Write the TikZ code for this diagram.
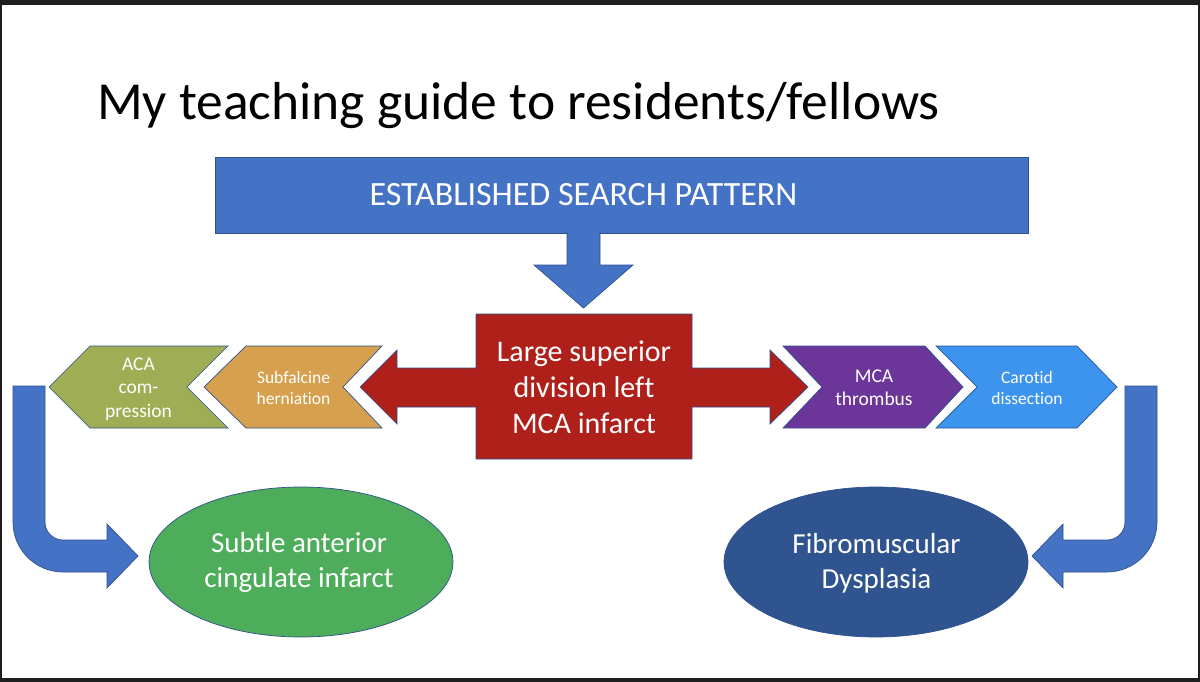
\documentclass[tikz,border=0pt]{standalone}
\usepackage{fontspec}
\setmainfont{Carlito}[Ligatures=NoCommon]
\definecolor{frame}{HTML}{1E1E1E}
\definecolor{outl}{HTML}{2F528F}
\definecolor{patblue}{HTML}{4472C4}
\definecolor{infred}{HTML}{B0201A}
\definecolor{acagreen}{HTML}{9FAD55}
\definecolor{subfal}{HTML}{D6A04F}
\definecolor{thrpurple}{HTML}{6C3599}
\definecolor{carblue}{HTML}{3D94EE}
\definecolor{cinggreen}{HTML}{4DAD5B}
\definecolor{fmdblue}{HTML}{30548F}
\begin{document}
\begin{tikzpicture}[x=1pt,y=-1pt,
    shp/.style={draw=outl,line width=0.7pt},
    lbl/.style={text=white,align=center,inner sep=0pt}]
  % slide
  \fill[frame] (0,0) rectangle (1200,682);
  \fill[white] (2,5) rectangle (1198,678);
  \useasboundingbox (0,0) rectangle (1200,682);
  \node[anchor=base west,inner sep=0pt,font=\fontsize{53.5}{64}\selectfont] (title) at (97,120) {My teaching guide to residents/fellows};
  % search pattern box and arrow down
  \draw[shp,fill=patblue] (215,157) rectangle (1028,233);
  \draw[shp,fill=patblue] (567,232) -- (567,265) -- (534,265) -- (583.5,308) -- (633,265) -- (600,265) -- (600,232);
  \node[lbl,font=\fontsize{34}{41}\selectfont] (pattern) at (583.5,195) {ESTABLISHED SEARCH PATTERN};
  % red double arrow
  \draw[shp,fill=infred] (476,314) -- (692,314) -- (692,368) -- (770,368) -- (770,350) -- (808,387)
    -- (770,424) -- (770,407) -- (692,407) -- (692,459) -- (476,459) -- (476,407) -- (397,407)
    -- (397,424) -- (360,387) -- (397,350) -- (397,368) -- (476,368) -- cycle;
  \node[lbl,font=\fontsize{30}{36}\selectfont] (infarct) at (584,387) {Large superior\\division left\\MCA infarct};
  % chevrons left
  \draw[shp,fill=acagreen] (49,387) -- (90,346) -- (228,346) -- (187,387) -- (228,428) -- (90,428) -- cycle;
  \draw[shp,fill=subfal] (204,387) -- (246,346) -- (382,346) -- (343,387) -- (382,428) -- (246,428) -- cycle;
  \node[lbl,font=\fontsize{19.5}{23.5}\selectfont] (aca) at (138.5,389) {ACA\\com-\\pression};
  \node[lbl,font=\fontsize{17.5}{21}\selectfont] (subfalcine) at (293.5,387.5) {Subfalcine\\herniation};
  % chevrons right
  \draw[shp,fill=thrpurple] (783,346) -- (925,346) -- (963,387) -- (925,428) -- (783,428) -- (822,387) -- cycle;
  \draw[shp,fill=carblue] (936,346) -- (1077,346) -- (1117,387) -- (1077,428) -- (936,428) -- (977,387) -- cycle;
  \node[lbl,font=\fontsize{19.5}{23}\selectfont] (thrombus) at (874,388) {MCA\\thrombus};
  \node[lbl,font=\fontsize{17.5}{21}\selectfont] (carotid) at (1027,387.5) {Carotid\\dissection};
  % bent arrows
  \draw[shp,fill=patblue] (13,386) -- (45,386) -- (45,522) .. controls (45,532) and (53,540) .. (63,540)
    -- (107,540) -- (107,524) -- (138,556) -- (107,588) -- (107,572) -- (63,572)
    .. controls (35.4,572) and (13,549.6) .. (13,522) -- cycle;
  \draw[shp,fill=patblue] (1157,386) -- (1125,386) -- (1125,522) .. controls (1125,532) and (1117,540) .. (1107,540)
    -- (1063,540) -- (1063,524) -- (1032,556) -- (1063,588) -- (1063,572) -- (1107,572)
    .. controls (1134.6,572) and (1157,549.6) .. (1157,522) -- cycle;
  % results
  \draw[shp,fill=cinggreen] (301,562) ellipse (152 and 75);
  \draw[shp,fill=fmdblue] (876,562) ellipse (152 and 75);
  \node[lbl,font=\fontsize{29}{35}\selectfont] (cingulate) at (299,562.5) {Subtle anterior\\cingulate infarct};
  \node[lbl,font=\fontsize{29}{35}\selectfont] (fmd) at (876.5,563) {Fibromuscular\\Dysplasia};
\end{tikzpicture}
\end{document}
